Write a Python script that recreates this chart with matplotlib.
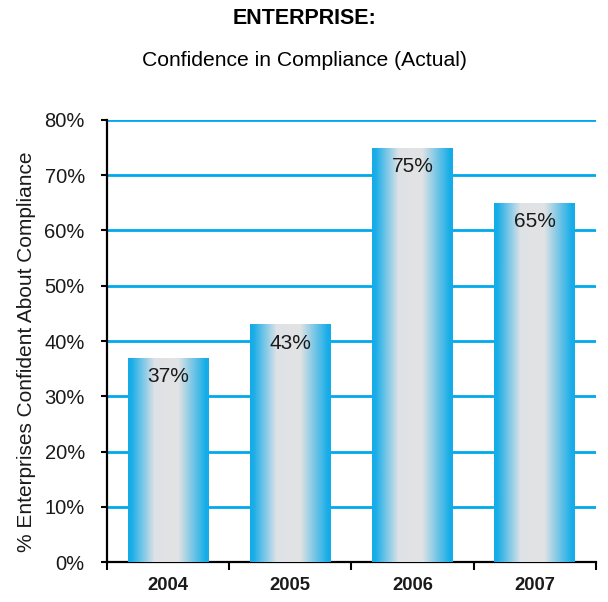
import numpy as np
import matplotlib.pyplot as plt
from matplotlib.colors import LinearSegmentedColormap

years = ["2004", "2005", "2006", "2007"]
confident = [37, 43, 75, 65]
y_ticks = [0, 10, 20, 30, 40, 50, 60, 70, 80]

plt.rcParams["font.family"] = ["Liberation Sans", "DejaVu Sans"]

fig = plt.figure(figsize=(6.08, 6.02), dpi=100)
ax = fig.add_axes([0.176, 0.0664, 0.804, 0.7343])

# blue edges fading into a light grey centre, like a cylinder
shade = LinearSegmentedColormap.from_list(
    "cyl",
    [(0.0, "#14ace8"), (0.04, "#18ade8"), (0.33, "#dfe2e6"),
     (0.62, "#e2e3e4"), (0.96, "#18ade8"), (1.0, "#14ace8")],
)
grad = np.linspace(0, 1, 256).reshape(1, -1)

x = np.arange(len(years))
bars = ax.bar(x, confident, width=0.66, color="none", edgecolor="none", zorder=3)
for b, v in zip(bars, confident):
    x0, w, h = b.get_x(), b.get_width(), b.get_height()
    im = ax.imshow(grad, cmap=shade, aspect="auto", extent=[x0, x0 + w, 0, h],
                   zorder=3, interpolation="bicubic")
    im.set_clip_path(b)
    ax.annotate(f"{v}%", (x0 + w / 2, h), xytext=(0, -19), textcoords="offset pixels",
                ha="center", va="center", fontsize=15, color="#1a1a1a", zorder=4)

ax.set_xlim(-0.5, len(years) - 0.5)
ax.set_ylim(0, 80)
ax.set_yticks(y_ticks)
ax.set_yticklabels([f"{t}%" for t in y_ticks], fontsize=14.5, color="#1a1a1a")
ax.yaxis.grid(True, color="#00a9ec", linewidth=2, zorder=1)
ax.set_axisbelow(True)

# boundary ticks between years, labels centred under each bar
ax.set_xticks(np.arange(len(years) + 1) - 0.5)
ax.set_xticklabels([])
ax.set_xticks(x, minor=True)
ax.set_xticklabels(years, minor=True, fontsize=13.3, fontweight="bold", color="#1a1a1a")
ax.tick_params(axis="x", which="major", length=6, width=1.5, direction="out")
ax.tick_params(axis="x", which="minor", length=0, pad=11)
ax.tick_params(axis="y", length=4, width=1.5, pad=12)

for s in ["top", "right"]:
    ax.spines[s].set_visible(False)
for s in ["left", "bottom"]:
    ax.spines[s].set_linewidth(1.6)
    ax.spines[s].set_color("black")

ax.set_ylabel("% Enterprises Confident About Compliance", fontsize=15, color="#1a1a1a")
ax.yaxis.set_label_coords(-0.145, 0.475)

fig.text(0.5, 1 - 18 / 602, "ENTERPRISE:", ha="center", va="center",
         fontsize=15.5, fontweight="bold", color="black")
fig.text(0.5, 1 - 60 / 602, "Confidence in Compliance (Actual)", ha="center", va="center",
         fontsize=15.2, color="black")

fig.savefig("out.png", dpi=100)
